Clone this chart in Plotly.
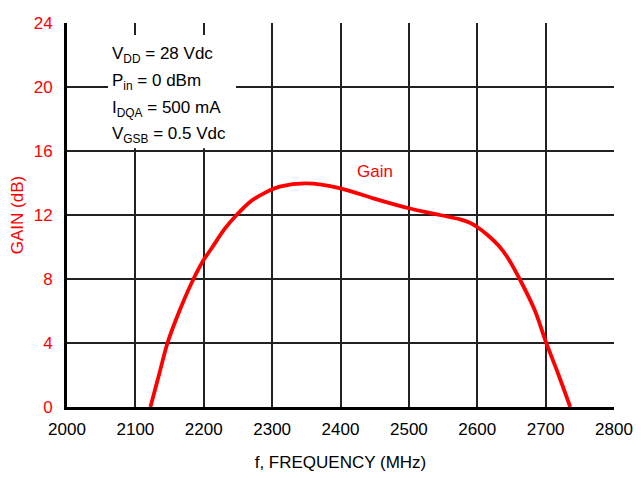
import plotly.graph_objects as go

freq = [2122, 2134.5, 2147, 2165, 2185, 2200, 2212, 2230, 2248, 2268, 2290, 2311, 2350,
        2400, 2448, 2500, 2545, 2575, 2590, 2600, 2615, 2633, 2645, 2662, 2684, 2701, 2719, 2736]
gain = [0.0, 2.0, 4.0, 6.06, 8.0, 9.2, 9.95, 11.1, 12.0, 12.83, 13.4, 13.77, 13.98,
        13.67, 13.04, 12.42, 12.0, 11.73, 11.5, 11.25, 10.75, 10.0, 9.3, 8.0, 6.06, 4.0, 2.0, 0.0]

x_ticks = [2000, 2100, 2200, 2300, 2400, 2500, 2600, 2700, 2800]
y_ticks = [0, 4, 8, 12, 16, 20, 24]

cond_lines = ["V<sub>DD</sub> = 28 Vdc", "P<sub>in</sub> = 0 dBm",
              "I<sub>DQA</sub> = 500 mA", "V<sub>GSB</sub> = 0.5 Vdc"]

FONT = "Liberation Sans, Arial, Helvetica, sans-serif"
RED = "#ff0000"
FS = 17

fig = go.Figure()
fig.add_trace(go.Scatter(x=freq, y=gain, mode="lines",
                         line=dict(color=RED, width=3.8, shape="spline", smoothing=0.85),
                         showlegend=False, hoverinfo="skip"))

fig.add_annotation(x=2450, y=14.75, xref="x", yref="y", text="Gain", showarrow=False,
                   font=dict(family=FONT, size=FS, color=RED))

# white box behind the condition text
fig.add_shape(type="rect", xref="paper", yref="paper", x0=0.075, x1=0.309, y0=0.674, y1=0.969,
              fillcolor="white", line=dict(width=0), layer="above")

line_y = [0.917, 0.847, 0.777, 0.708]
for txt, yy in zip(cond_lines, line_y):
    fig.add_annotation(x=0.079, y=yy, xref="paper", yref="paper", xanchor="left", yanchor="middle",
                       align="left", showarrow=False, text=txt,
                       font=dict(family=FONT, size=FS, color="black"))

fig.update_layout(
    width=633, height=470,
    margin=dict(l=59, r=27, t=15, b=71),
    paper_bgcolor="white", plot_bgcolor="white",
    font=dict(family=FONT, size=FS, color="black"),
    xaxis=dict(range=[2000, 2800], tickvals=x_ticks, ticktext=[str(v) for v in x_ticks],
               showgrid=True, gridcolor="#222222", gridwidth=1.5,
               showline=True, linecolor="black", linewidth=3,
               ticks="", ticklabelstandoff=5, automargin=False,
               tickfont=dict(family=FONT, size=FS, color="black"),
               title=dict(text="f, FREQUENCY (MHz)", standoff=18,
                          font=dict(family=FONT, size=FS, color="black")),
               zeroline=False, fixedrange=True),
    yaxis=dict(range=[0, 24], tickvals=y_ticks, ticktext=[str(v) for v in y_ticks],
               showgrid=True, gridcolor="#222222", gridwidth=1.5,
               showline=True, linecolor="black", linewidth=3,
               ticks="", ticklabelstandoff=8, automargin=False,
               tickfont=dict(family=FONT, size=FS, color=RED),
               title=dict(text="GAIN (dB)", standoff=9,
                          font=dict(family=FONT, size=FS, color=RED)),
               zeroline=False, fixedrange=True),
)

fig.write_html("out.html")
